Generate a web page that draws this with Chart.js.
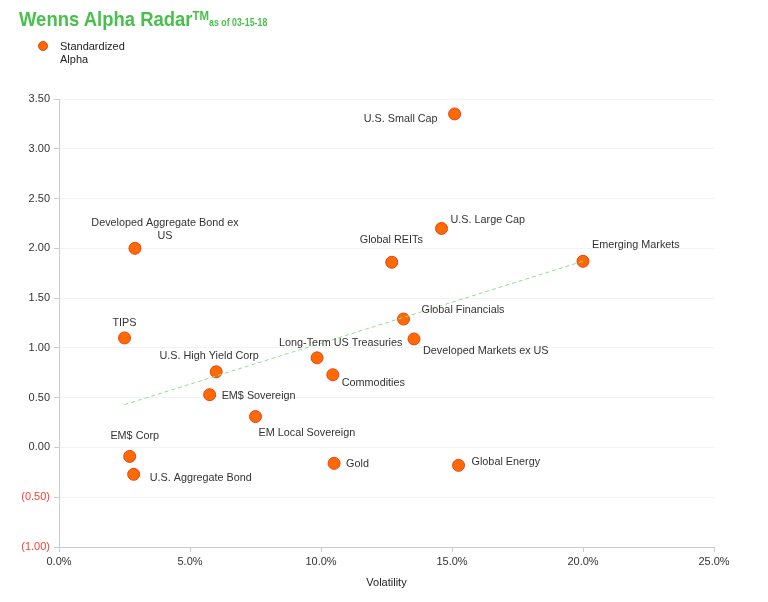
<!DOCTYPE html>
<html>
<head>
<meta charset="utf-8">
<script src="https://cdn.jsdelivr.net/npm/chart.js@4"></script>
<style>
  body { margin: 0; background: #fff; font-family: 'Liberation Sans', Arial, sans-serif; }
  .wrap { position: relative; width: 768px; height: 602px; }
  .title { position: absolute; left: 19px; top: 7px; color: #48c04c; font-weight: bold; font-size: 21px; white-space: nowrap; transform: scaleX(0.88); transform-origin: left top; }
  .title sup { font-size: 13px; vertical-align: 6px; }
  .title small { font-size: 10px; }
  .legend { position: absolute; left: 38px; top: 40px; font-size: 11px; color: #222; line-height: 13px; }
  .legend .dot { position: absolute; left: 0; top: 1px; width: 8px; height: 8px; border-radius: 50%; background: #ff6a00; border: 1px solid #e8421a; }
  .legend .txt { margin-left: 22px; }
  canvas { position: absolute; left: 0; top: 0; }
</style>
</head>
<body>
<div class="wrap">
  <canvas id="myChart" width="768" height="602"></canvas>
  <div class="title">Wenns Alpha Radar<sup>TM</sup><small>as of 03-15-18</small></div>
  <div class="legend"><span class="dot"></span><div class="txt">Standardized<br>Alpha</div></div>
</div>
<script>
// данные с картинки
const assetNames = ['U.S. Small Cap', 'U.S. Large Cap', 'Global REITs', 'Emerging Markets',
  'Developed Aggregate Bond ex US', 'TIPS', 'Global Financials', 'Developed Markets ex US',
  'Long-Term US Treasuries', 'Commodities', 'U.S. High Yield Corp', 'EM$ Sovereign',
  'EM Local Sovereign', 'EM$ Corp', 'U.S. Aggregate Bond', 'Gold', 'Global Energy'];
const volatility = [15.1, 14.6, 12.7, 20.0, 2.9, 2.5, 13.15, 13.55, 9.85, 10.45, 6.0, 5.75, 7.5, 2.7, 2.85, 10.5, 15.25];
const alpha = [3.35, 2.20, 1.86, 1.87, 2.00, 1.10, 1.29, 1.09, 0.90, 0.73, 0.76, 0.53, 0.31, -0.09, -0.27, -0.16, -0.18];
const trendX = [2.5, 20.0];
const trendY = [0.43, 1.87];

// где рисовать подписи относительно точки
const labelPos = {
  'U.S. Small Cap': [-17, 5, 'right'],
  'U.S. Large Cap': [9, -9, 'left'],
  'Global REITs': [-32, -22, 'left'],
  'Emerging Markets': [9, -16, 'left'],
  'Developed Aggregate Bond ex US': [30, -26, 'center', ['Developed Aggregate Bond ex', 'US']],
  'TIPS': [0, -15, 'center'],
  'Global Financials': [18, -9, 'left'],
  'Developed Markets ex US': [9, 12, 'left'],
  'Long-Term US Treasuries': [-38, -15, 'left'],
  'Commodities': [9, 8, 'left'],
  'U.S. High Yield Corp': [-7, -16, 'center'],
  'EM$ Sovereign': [12, 1, 'left'],
  'EM Local Sovereign': [3, 16, 'left'],
  'EM$ Corp': [5, -21, 'center'],
  'U.S. Aggregate Bond': [16, 4, 'left'],
  'Gold': [12, 0, 'left'],
  'Global Energy': [13, -4, 'left']
};

const pointLabels = {
  id: 'pointLabels',
  afterDatasetsDraw(chart) {
    const ctx = chart.ctx;
    const meta = chart.getDatasetMeta(1);
    ctx.save();
    ctx.font = '11.5px "Liberation Sans", Arial, sans-serif';
    ctx.fillStyle = '#333';
    ctx.textBaseline = 'middle';
    meta.data.forEach((pt, i) => {
      const name = assetNames[i];
      const p = labelPos[name] || [10, 0, 'left'];
      const lines = p[3] || [name];
      lines.forEach((line, j) => {
        // чуть сжимаем по горизонтали, как в оригинале
        const w = ctx.measureText(line).width * 0.94;
        let x = pt.x + p[0];
        if (p[2] === 'center') x -= w / 2;
        if (p[2] === 'right') x -= w;
        ctx.save();
        ctx.translate(x, pt.y + p[1] + j * 13);
        ctx.scale(0.94, 1);
        ctx.textAlign = 'left';
        ctx.fillText(line, 0, 0);
        ctx.restore();
      });
    });
    ctx.restore();
  }
};

const fmtAlpha = (v) => v < 0 ? '(' + Math.abs(v).toFixed(2) + ')' : v.toFixed(2);

const ctx = document.getElementById('myChart').getContext('2d');
const myChart = new Chart(ctx, {
  type: 'scatter',
  data: {
    datasets: [
      {
        type: 'line',
        label: 'trend',
        data: trendX.map((x, i) => ({ x: x, y: trendY[i] })),
        borderColor: '#8fe08f',
        borderWidth: 1,
        borderDash: [4, 3],
        pointRadius: 0,
        fill: false
      },
      {
        label: 'Standardized Alpha',
        data: volatility.map((x, i) => ({ x: x, y: alpha[i] })),
        backgroundColor: '#ff6a00',
        borderColor: '#e8421a',
        borderWidth: 1,
        pointRadius: 6,
        pointHoverRadius: 6
      }
    ]
  },
  options: {
    responsive: false,
    animation: false,
    layout: { padding: { left: 0, top: 99, right: 54, bottom: 8 } },
    plugins: { legend: { display: false }, tooltip: { enabled: false } },
    scales: {
      x: {
        type: 'linear',
        min: 0,
        max: 25,
        ticks: {
          stepSize: 5,
          color: '#333',
          font: { size: 11, family: '"Liberation Sans", Arial, sans-serif' },
          padding: 3,
          callback: (v) => v.toFixed(1) + '%'
        },
        grid: { drawOnChartArea: false, color: '#ccc', tickLength: 5 },
        border: { color: '#ccc' },
        title: {
          display: true,
          text: 'Volatility',
          color: '#222',
          font: { size: 11, family: '"Liberation Sans", Arial, sans-serif' },
          padding: { top: 8, bottom: 4 }
        },
        afterFit: (scale) => { scale.height = 47; }
      },
      y: {
        min: -1,
        max: 3.5,
        ticks: {
          stepSize: 0.5,
          padding: 4,
          font: { size: 11, family: '"Liberation Sans", Arial, sans-serif' },
          color: (c) => c.tick.value < 0 ? '#ff3b30' : '#333',
          callback: (v) => fmtAlpha(v)
        },
        grid: { color: '#f2f2f2', tickColor: '#ccc', tickLength: 5 },
        border: { color: '#ccc' },
        afterFit: (scale) => { scale.width = 59; }
      }
    }
  },
  plugins: [pointLabels]
});
</script>
</body>
</html>
